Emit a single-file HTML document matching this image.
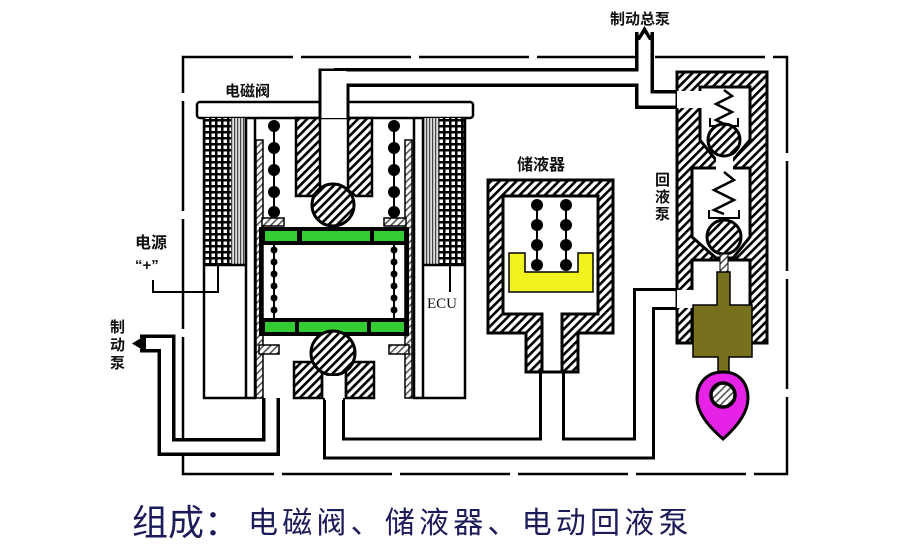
<!DOCTYPE html>
<html><head><meta charset="utf-8"><style>
html,body{margin:0;padding:0;background:#fff;}
svg{display:block;}
.t{font-family:"Liberation Sans","Noto Sans CJK SC",sans-serif;font-weight:bold;fill:#111;}
</style></head><body>
<svg width="912" height="546" viewBox="0 0 912 546" xmlns="http://www.w3.org/2000/svg">
<defs>
<pattern id="h" width="6" height="6" patternUnits="userSpaceOnUse" patternTransform="rotate(45)">
<rect width="6" height="6" fill="#fff"/><rect width="2.6" height="6" fill="#000"/></pattern>
<pattern id="hg" width="5" height="5" patternUnits="userSpaceOnUse" patternTransform="rotate(45)">
<rect width="5" height="5" fill="#fff"/><rect width="1.6" height="5" fill="#555"/></pattern>
<pattern id="g" width="6" height="6" patternUnits="userSpaceOnUse">
<rect width="6" height="6" fill="#000"/><rect x="1.5" y="1.5" width="3.5" height="3.5" fill="#fff"/></pattern>
<pattern id="s" width="3" height="6" patternUnits="userSpaceOnUse">
<rect width="3" height="6" fill="#ddd"/><rect width="1.2" height="6" fill="#444"/></pattern>
</defs>

<g stroke="#000" stroke-width="2.5" fill="none" stroke-dasharray="110 8">
<path d="M183 57 H787 V474 H183 Z"/>
</g>

<!-- cap -->
<rect x="197" y="102" width="276" height="16" rx="3" fill="#fff" stroke="#000" stroke-width="2.5"/>

<g fill="none" stroke-linejoin="miter">
<path d="M334 117 V68.5" stroke="#000" stroke-width="31"/>
<path d="M334 77.5 H644.5 V32" stroke="#000" stroke-width="19"/>
<path d="M644.5 77.5 V99.5 H700" stroke="#000" stroke-width="19"/>
<path d="M334 398 V448.5 H644 V299 H694" stroke="#000" stroke-width="22"/>
<path d="M552 360 V448" stroke="#000" stroke-width="26"/>
<path d="M271 398 V447 H166.5 V343.5 H140" stroke="#000" stroke-width="18"/>
<path d="M334 118 V71" stroke="#fff" stroke-width="25"/>
<path d="M334 77.5 H644.5 V32" stroke="#fff" stroke-width="12"/>
<path d="M644.5 77.5 V99.5 H700" stroke="#fff" stroke-width="12"/>
<path d="M334 398 V448.5 H644 V299 H694" stroke="#fff" stroke-width="16"/>
<path d="M552 340 V448" stroke="#fff" stroke-width="20"/>
<path d="M271 398 V447 H166.5 V343.5 H140" stroke="#fff" stroke-width="11"/>
</g>
<path d="M636 40 L644.5 26 L653 40 Z" fill="#000"/>
<path d="M640 40 L644.5 33 L649 40 Z" fill="#fff"/>
<path d="M146 335 L132 343.5 L146 352 Z" fill="#000"/>

<!-- coils -->
<rect x="204" y="118" width="27" height="147" fill="url(#g)"/>
<rect x="231" y="118" width="15" height="147" fill="url(#s)"/>
<rect x="423" y="118" width="16" height="147" fill="url(#s)"/>
<rect x="439" y="118" width="26" height="147" fill="url(#g)"/>
<g fill="none" stroke="#000" stroke-width="2.5">
<path d="M204 118 V398 H255 V118"/>
<path d="M204 265 H246"/>
<path d="M246 118 V398"/>
<path d="M465 118 V398 H414 V118"/>
<path d="M423 265 H465"/>
<path d="M423 118 V398"/>
</g>
<rect x="256" y="140" width="7" height="258" fill="url(#hg)" stroke="#000" stroke-width="1.5"/>
<rect x="405" y="140" width="7" height="258" fill="url(#hg)" stroke="#000" stroke-width="1.5"/>
<path d="M296 118 H320 V190 L312 196 H296 Z" fill="url(#h)" stroke="#000" stroke-width="2.5"/>
<path d="M348 118 H372 V196 H356 L348 190 Z" fill="url(#h)" stroke="#000" stroke-width="2.5"/>
<rect x="262" y="218" width="22" height="8" fill="url(#hg)" stroke="#000" stroke-width="1.5"/>
<rect x="384" y="218" width="22" height="8" fill="url(#hg)" stroke="#000" stroke-width="1.5"/>
<rect x="259" y="345" width="20" height="9" fill="url(#hg)" stroke="#000" stroke-width="1.5"/>
<rect x="389" y="345" width="20" height="9" fill="url(#hg)" stroke="#000" stroke-width="1.5"/>
<g stroke="#000" stroke-width="2"><line x1="274" y1="122" x2="274" y2="216"/><line x1="394" y1="122" x2="394" y2="216"/>
<line x1="274" y1="245" x2="274" y2="318"/><line x1="394" y1="245" x2="394" y2="318"/></g>
<g fill="#000">
<circle cx="274" cy="126" r="6"/><circle cx="274" cy="148" r="6"/><circle cx="274" cy="170" r="6"/><circle cx="274" cy="192" r="6"/><circle cx="274" cy="212" r="6"/>
<circle cx="394" cy="126" r="6"/><circle cx="394" cy="148" r="6"/><circle cx="394" cy="170" r="6"/><circle cx="394" cy="192" r="6"/><circle cx="394" cy="212" r="6"/>
<circle cx="274" cy="250" r="3.5"/><circle cx="274" cy="262" r="3.5"/><circle cx="274" cy="274" r="3.5"/><circle cx="274" cy="286" r="3.5"/><circle cx="274" cy="298" r="3.5"/><circle cx="274" cy="310" r="3.5"/>
<circle cx="394" cy="250" r="3.5"/><circle cx="394" cy="262" r="3.5"/><circle cx="394" cy="274" r="3.5"/><circle cx="394" cy="286" r="3.5"/><circle cx="394" cy="298" r="3.5"/><circle cx="394" cy="310" r="3.5"/>
</g>
<rect x="259" y="227" width="150" height="18" fill="#000"/>
<rect x="259" y="318" width="150" height="18" fill="#000"/>
<rect x="259" y="227" width="4" height="109" fill="#000"/>
<rect x="405" y="227" width="4" height="109" fill="#000"/>
<g fill="#33cc33">
<rect x="265" y="231" width="32" height="10"/><rect x="302" y="231" width="68" height="10"/><rect x="374" y="231" width="30" height="10"/>
<rect x="265" y="322" width="30" height="10"/><rect x="299" y="322" width="68" height="10"/><rect x="371" y="322" width="33" height="10"/>
</g>
<circle cx="333" cy="205" r="21" fill="url(#h)" stroke="#000" stroke-width="3"/>
<rect x="294" y="362" width="28" height="36" fill="url(#h)" stroke="#000" stroke-width="2.5"/>
<rect x="346" y="362" width="28" height="36" fill="url(#h)" stroke="#000" stroke-width="2.5"/>
<circle cx="333" cy="353" r="22" fill="url(#h)" stroke="#000" stroke-width="3"/>
<rect x="325" y="376" width="18" height="24" fill="#fff"/>
<line x1="322" y1="375" x2="322" y2="398" stroke="#000" stroke-width="2.5"/>
<line x1="346" y1="375" x2="346" y2="398" stroke="#000" stroke-width="2.5"/>
<g stroke="#000" stroke-width="2" fill="none">
<path d="M153 280 V292 H218 V265"/>
<path d="M450 265 V292"/>
</g>
<text x="427" y="308" font-family="Liberation Serif,serif" font-size="15" fill="#111">ECU</text>

<!-- reservoir -->
<path d="M488 180 H613 V333 H578 V372 H526 V333 H488 Z" fill="url(#h)" stroke="#000" stroke-width="3"/>
<path d="M503 196 H598 V314 H562 V372 H542 V314 H503 Z" fill="#fff" stroke="#000" stroke-width="3"/>
<path d="M509 253 H525 V272 H578 V253 H593 V292 H509 Z" fill="#f2f21e" stroke="#000" stroke-width="1.5"/>
<g stroke="#000" stroke-width="2"><line x1="537" y1="200" x2="537" y2="266"/><line x1="566" y1="200" x2="566" y2="266"/></g>
<g fill="#000">
<circle cx="537" cy="205" r="6"/><circle cx="537" cy="225" r="6"/><circle cx="537" cy="245" r="6"/><circle cx="537" cy="265" r="6"/>
<circle cx="566" cy="205" r="6"/><circle cx="566" cy="225" r="6"/><circle cx="566" cy="245" r="6"/><circle cx="566" cy="265" r="6"/>
</g>

<!-- pump -->
<rect x="677" y="72" width="90" height="271" fill="url(#h)" stroke="#000" stroke-width="3"/>
<path d="M700 87 H750 V140 L733 160 H716 L700 140 Z" fill="#fff" stroke="#000" stroke-width="3"/>
<path d="M692 168 H750 V237 L733 258 H716 L692 237 Z" fill="#fff" stroke="#000" stroke-width="3"/>
<rect x="716" y="156" width="17" height="16" fill="#fff"/>
<rect x="692" y="260" width="58" height="83" fill="#fff" stroke="#000" stroke-width="3"/>
<rect x="677" y="91" width="25" height="17" fill="#fff"/>
<rect x="677" y="290" width="17" height="18" fill="#fff"/>
<polyline points="724,90 732,96 716,104 732,112 716,120 724,124" fill="none" stroke="#000" stroke-width="2.5"/>
<path d="M710 118 V126 H738 V118" fill="none" stroke="#000" stroke-width="2"/>
<polyline points="724,172 734,180 714,190 734,200 714,210 724,214" fill="none" stroke="#000" stroke-width="2.5"/>
<path d="M709 210 V218 H739 V210" fill="none" stroke="#000" stroke-width="2"/>
<circle cx="724" cy="140" r="16" fill="url(#h)" stroke="#000" stroke-width="3"/>
<circle cx="724" cy="237" r="17" fill="url(#h)" stroke="#000" stroke-width="3"/>
<rect x="720" y="254" width="8" height="20" fill="url(#hg)" stroke="#000" stroke-width="1"/>
<path d="M717 272 H730 V305 H752 V357 H729 V374 H718 V357 H693 V305 H717 Z" fill="#77701c" stroke="#000" stroke-width="1.5"/>
<path d="M723 372 C706 372 697 384 697 398 C697 416 715 432 723 439 C731 432 748 416 748 398 C748 384 740 372 723 372 Z" fill="#e622e6" stroke="#000" stroke-width="3"/>
<circle cx="723" cy="395" r="12" fill="url(#hg)" stroke="#000" stroke-width="3.5"/>

<text class="t" x="610" y="24" font-size="15">制动总泵</text>
<text class="t" x="225" y="96" font-size="15">电磁阀</text>
<text class="t" x="517" y="170" font-size="16">储液器</text>
<text class="t" x="655" y="185" font-size="15">回</text>
<text class="t" x="655" y="202" font-size="15">液</text>
<text class="t" x="655" y="219" font-size="15">泵</text>
<text class="t" x="135" y="248" font-size="16">电源</text>
<text class="t" x="135" y="270" font-size="15">“+”</text>
<text class="t" x="110" y="332" font-size="15">制</text>
<text class="t" x="110" y="350" font-size="15">动</text>
<text class="t" x="110" y="368" font-size="15">泵</text>
<text x="132" y="535" font-family="Liberation Sans,'Noto Sans CJK SC',sans-serif" font-size="36" fill="#1c1c5a">组成：</text>
<text x="248" y="533" font-family="Liberation Sans,'Noto Sans CJK SC',sans-serif" font-size="30" letter-spacing="4.2" fill="#1c1c5a">电磁阀、储液器、电动回液泵</text>
</svg>
</body></html>
